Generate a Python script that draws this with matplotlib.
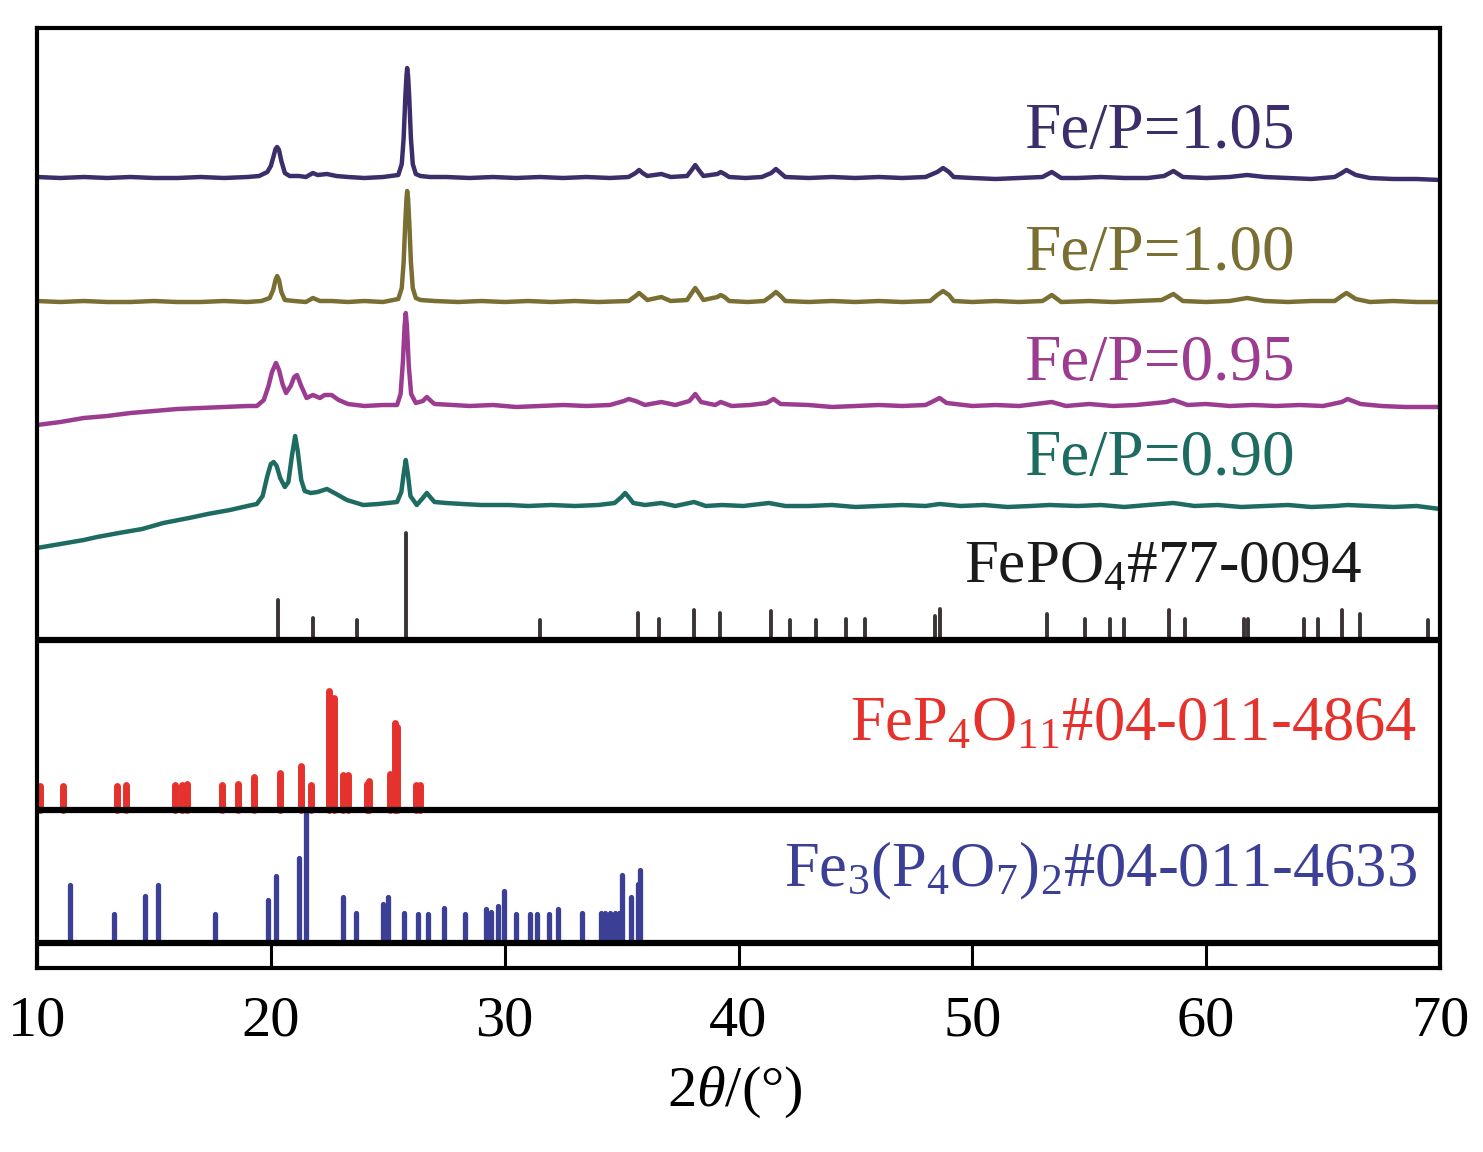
import matplotlib
matplotlib.use("Agg")
import matplotlib.pyplot as plt

plt.rcParams['font.family'] = ['Liberation Serif', 'DejaVu Serif']
plt.rcParams['mathtext.fontset'] = 'custom'
plt.rcParams['mathtext.rm'] = 'Liberation Serif'
plt.rcParams['mathtext.it'] = 'Liberation Serif:italic'

# ---- measured patterns (2theta, intensity above each curve's flat level) ----
tt_105 = [10.0, 11.0, 12.0, 13.0, 14.0, 15.0, 16.0, 17.0, 18.0, 19.0, 19.5, 19.85, 20.0, 20.12,
          20.2, 20.27, 20.35, 20.45, 20.6, 20.8, 21.2, 21.5, 21.8, 22.0, 22.4, 22.8, 23.3, 24.0,
          24.8, 25.45, 25.6, 25.68, 25.75, 25.8, 25.83, 25.87, 25.92, 25.99, 26.07, 26.2, 26.4,
          26.8, 27.5, 28.5, 29.5, 30.5, 31.5, 32.5, 33.5, 34.5, 35.3, 35.6, 35.75, 35.9, 36.1,
          36.7, 37.1, 37.8, 38.0, 38.15, 38.3, 38.5, 39.1, 39.24, 39.4, 39.6, 40.3, 41.0, 41.4,
          41.6, 41.8, 42.0, 43.0, 44.0, 45.0, 46.0, 47.0, 48.0, 48.5, 48.75, 49.0, 49.2, 50.0,
          51.0, 52.0, 53.0, 53.4, 53.8, 54.5, 55.5, 56.5, 57.5, 58.2, 58.6, 59.0, 60.0, 61.0,
          61.75, 62.5, 63.5, 64.5, 65.5, 65.8, 66.0, 66.4, 67.0, 68.0, 69.0, 70.0]
i_105 = [1, 0, 1, 0, 1, 0, 0, 1, 0, 1, 2, 6, 12, 22,
         29, 31, 28, 17, 5, 2, 2, 1, 5, 3, 4, 2, 1, 0,
         1, 3, 14, 40, 80, 102, 110, 102, 80, 40, 14, 4, 2,
         1, 1, 0, 1, 0, 1, 0, 1, 0, 1, 5, 8, 5, 2,
         4, 1, 2, 8, 13, 8, 2, 4, 6, 4, 1, 0, 1, 5,
         9, 5, 1, 0, 1, 0, 1, 0, 1, 6, 10, 6, 1, 0,
         -1, 0, 1, 6, 0, 0, 1, 0, 0, 2, 7, 1, 0, 1,
         3, 1, 0, -1, 1, 5, 8, 3, 0, -1, -1, -2]

tt_100 = [10.0, 11.0, 12.0, 13.0, 14.0, 15.0, 16.0, 17.0, 18.0, 19.0, 19.6, 19.95, 20.1, 20.2,
          20.27, 20.35, 20.45, 20.6, 21.0, 21.5, 21.8, 22.1, 22.6, 23.3, 24.0, 24.8, 25.45, 25.6,
          25.68, 25.75, 25.8, 25.83, 25.87, 25.92, 25.99, 26.07, 26.2, 26.4, 27.0, 28.0, 29.0,
          30.0, 31.0, 32.0, 33.0, 34.0, 35.3, 35.6, 35.75, 35.9, 36.1, 36.7, 37.1, 37.8, 38.0,
          38.15, 38.3, 38.5, 39.1, 39.24, 39.4, 39.6, 40.4, 41.1, 41.4, 41.6, 41.8, 42.0, 43.0,
          44.0, 45.0, 46.0, 47.0, 48.2, 48.5, 48.75, 49.0, 49.2, 50.0, 51.0, 52.0, 53.0, 53.4,
          53.8, 55.0, 56.0, 57.0, 58.1, 58.6, 59.0, 60.0, 61.0, 61.75, 62.5, 63.5, 64.5, 65.5,
          65.8, 66.0, 66.4, 67.0, 68.0, 69.0, 70.0]
i_100 = [1, 0, 1, 0, 0, 1, 0, 0, 1, 0, 1, 4, 12, 22,
         26, 22, 10, 2, 1, 0, 4, 1, 1, 0, 1, 0, 3, 14,
         40, 80, 103, 111, 103, 80, 40, 14, 4, 2, 1, 0, 1,
         0, 1, 0, 1, 0, 1, 6, 9, 6, 2, 5, 1, 2, 9,
         14, 9, 2, 5, 7, 5, 1, 0, 1, 6, 10, 6, 1, 0,
         1, 0, 1, 0, 1, 7, 11, 7, 1, 0, 1, 0, 1, 7,
         0, 1, 0, 1, 2, 8, 1, 0, 1, 4, 1, 0, 1, 1,
         6, 9, 3, 0, 1, 0, 0]

tt_095 = [10.0, 11.0, 12.0, 13.0, 14.0, 15.0, 16.0, 17.0, 18.0, 19.0, 19.4, 19.7, 19.9, 20.05,
          20.22, 20.35, 20.5, 20.65, 20.85, 21.0, 21.12, 21.3, 21.53, 21.8, 22.1, 22.3, 22.6, 22.9,
          23.3, 24.0, 24.8, 25.4, 25.55, 25.65, 25.72, 25.77, 25.82, 25.9, 26.0, 26.2, 26.5,
          26.67, 26.85, 27.0, 27.8, 28.5, 29.5, 30.5, 31.5, 32.5, 33.5, 34.5, 35.1, 35.3, 35.6,
          36.0, 36.7, 37.3, 37.9, 38.15, 38.4, 39.0, 39.24, 39.7, 40.5, 41.2, 41.5, 41.8, 43.0,
          44.0, 45.0, 46.0, 47.0, 48.0, 48.35, 48.6, 48.9, 50.0, 51.0, 52.0, 53.4, 54.0, 55.0,
          56.0, 57.0, 58.3, 58.6, 59.2, 60.0, 61.0, 62.0, 63.0, 64.0, 65.0, 65.8, 66.05, 66.6,
          67.5, 68.5, 70.0]
i_095 = [-19, -16, -12, -10, -7, -5, -3, -2, -1, 0, 0, 6, 20, 34,
         43, 36, 22, 13, 20, 29, 31, 20, 8, 11, 8, 11, 11, 6,
         2, 0, 1, 1, 12, 45, 80, 93, 80, 40, 12, 3, 5,
         9, 5, 2, 1, 0, 1, -1, 0, 1, 0, 1, 5, 7, 5,
         1, 4, 1, 5, 12, 4, 1, 4, 0, 1, 3, 7, 2, 1,
         -1, 0, 1, 0, 1, 5, 8, 3, 0, 1, 0, 4, 0, 2,
         0, 1, 4, 6, 1, 2, 0, 1, 0, 1, 0, 4, 7, 2,
         0, -1, -1]

tt_090 = [10.0, 11.0, 12.0, 12.57, 13.5, 14.5, 15.4, 16.5, 17.3, 18.25, 19.0, 19.4, 19.65, 19.85,
          20.0, 20.12, 20.25, 20.4, 20.6, 20.75, 20.9, 21.04, 21.15, 21.3, 21.45, 21.7, 22.0, 22.4,
          22.8, 23.25, 23.95, 24.6, 25.4, 25.58, 25.68, 25.77, 25.86, 25.97, 26.24, 26.5, 26.67,
          26.85, 27.0, 27.5, 28.2, 29.0, 30.2, 31.0, 32.0, 33.0, 34.0, 34.7, 35.0, 35.15, 35.3,
          35.5, 36.0, 36.7, 37.3, 38.1, 38.6, 39.3, 40.2, 41.3, 42.0, 43.0, 44.0, 45.0, 46.0,
          47.0, 48.0, 48.6, 49.5, 50.5, 51.5, 52.5, 53.3, 54.5, 55.5, 56.5, 57.5, 58.6, 59.5,
          60.5, 61.5, 62.5, 63.5, 64.5, 65.5, 66.05, 67.0, 68.0, 69.0, 70.0]
i_090 = [-42, -38, -34, -31, -27, -23, -17, -12, -8, -4, 0, 2, 10, 30,
         42, 44, 40, 28, 19, 24, 50, 70, 55, 26, 15, 13, 14, 17,
         12, 6, 1, 2, 4, 14, 32, 46, 32, 10, 1, 8, 13,
         8, 4, 3, 2, 1, 1, 0, 1, 0, 1, 3, 9, 13, 9,
         3, 1, 3, 0, 4, 0, 1, 0, 3, 0, 0, 1, -1, 0,
         1, 0, 2, 0, 1, -1, 0, 1, 0, 1, -1, 1, 3, 0,
         1, -1, 0, 1, -1, 0, 1, 0, -1, 0, -3]

# ---- reference cards (relative intensity, strongest = 100) ----
pos_fepo4 = [20.3, 21.8, 23.7, 25.8, 31.5, 35.7, 36.6, 38.1, 39.2, 41.4, 42.2, 43.3, 44.6, 45.4,
             48.4, 48.6, 53.2, 54.8, 55.9, 56.5, 58.4, 59.1, 61.6, 61.8, 64.2, 64.8, 65.8, 66.6, 69.5]
int_fepo4 = [37, 21, 19, 100, 19, 25, 20, 28, 25, 27, 19, 19, 20, 20,
             22, 29, 24, 20, 20, 20, 28, 20, 20, 20, 20, 20, 28, 24, 19]

pos_fep4o11 = [10.13, 11.1, 13.4, 13.8, 15.9, 16.2, 16.4, 17.9, 18.6, 19.3, 20.4, 21.3, 21.7,
               22.5, 22.7, 23.1, 23.3, 24.1, 24.2, 25.1, 25.3, 25.4, 26.2, 26.4]
int_fep4o11 = [20, 20, 20, 21, 21, 21, 22, 21, 22, 28, 31, 37, 21,
               100, 94, 29, 29, 22, 24, 30, 73, 70, 21, 21]

pos_fe3p4o7 = [11.43, 13.3, 14.6, 15.17, 17.6, 19.9, 20.2, 21.2, 21.5, 23.07, 23.66, 24.8, 25.0,
               25.7, 26.3, 26.7, 27.4, 28.3, 29.2, 29.4, 29.7, 29.96, 30.5, 31.1, 31.4, 31.9,
               32.3, 33.3, 34.1, 34.3, 34.5, 34.7, 34.9, 35.0, 35.4, 35.7, 35.8]
int_fe3p4o7 = [44, 22, 36, 44, 22, 33, 51, 65, 100, 35, 23, 30, 35,
               23, 22, 22, 27, 22, 26, 24, 28, 40, 22, 22, 22, 22,
               26, 23, 23, 23, 23, 23, 23, 52, 35, 45, 56]

labels = ['Fe/P=1.05', 'Fe/P=1.00', 'Fe/P=0.95', 'Fe/P=0.90']
colors = ['#3c2d6b', '#7a6f33', '#9b3c91', '#1d6b61']
xticks = [10, 20, 30, 40, 50, 60, 70]

# layout (vertical units = pixels above the bottom axis)
curve_base = [790, 666, 562, 462]
label_y = [820, 698, 588, 493]
sep_y = [25, 158, 328]

fig = plt.figure(figsize=(14.83, 11.52), dpi=100)
ax = fig.add_axes([37 / 1483, 184 / 1152, 1403 / 1483, 940 / 1152])
ax.set_xlim(10, 70)
ax.set_ylim(0, 940)

curves = [(tt_105, i_105), (tt_100, i_100), (tt_095, i_095), (tt_090, i_090)]
for (tt, ii), base, col, lab, ly in zip(curves, curve_base, colors, labels, label_y):
    ax.plot(tt, [base + v for v in ii], color=col, lw=3.2, solid_joinstyle='round')
    ax.text(0.8967, ly, lab, color=col, fontsize=47, ha='right', va='baseline',
            transform=ax.get_yaxis_transform())

# stick patterns
ax.vlines(pos_fepo4, sep_y[2], [sep_y[2] + v * 1.07 for v in int_fepo4],
          color='#3b3434', lw=2.8, capstyle='round')
ax.vlines(pos_fep4o11, sep_y[1], [sep_y[1] + v * 1.19 for v in int_fep4o11],
          color='#e5322d', lw=5.0, capstyle='round')
ax.vlines(pos_fe3p4o7, sep_y[0], [sep_y[0] + v * 1.31 for v in int_fe3p4o7],
          color='#3b3f96', lw=3.8, capstyle='round')

for y in sep_y:
    ax.axhline(y, color='black', lw=4.5, zorder=5)

ax.text(0.944, 385, r'FePO$_4$#77-0094', color='#1a1a1a', fontsize=44, ha='right',
        va='baseline', transform=ax.get_yaxis_transform())
ax.text(0.9836, 228, r'FeP$_4$O$_{11}$#04-011-4864', color='#e5322d', fontsize=45, ha='right',
        va='baseline', transform=ax.get_yaxis_transform())
ax.text(0.9836, 82, r'Fe$_3$(P$_4$O$_7$)$_2$#04-011-4633', color='#3b3f96', fontsize=45,
        ha='right', va='baseline', transform=ax.get_yaxis_transform())

for s in ax.spines.values():
    s.set_linewidth(3.0)
ax.set_yticks([])
ax.set_xticks(xticks)
ax.tick_params(axis='x', direction='in', length=18, width=2.2, labelsize=42, pad=20)

fig.text(735 / 1483, 1 - 1092 / 1152, r'2$\theta$/(°)', fontsize=42, ha='center', va='center')

fig.savefig('out.png', dpi=100)
